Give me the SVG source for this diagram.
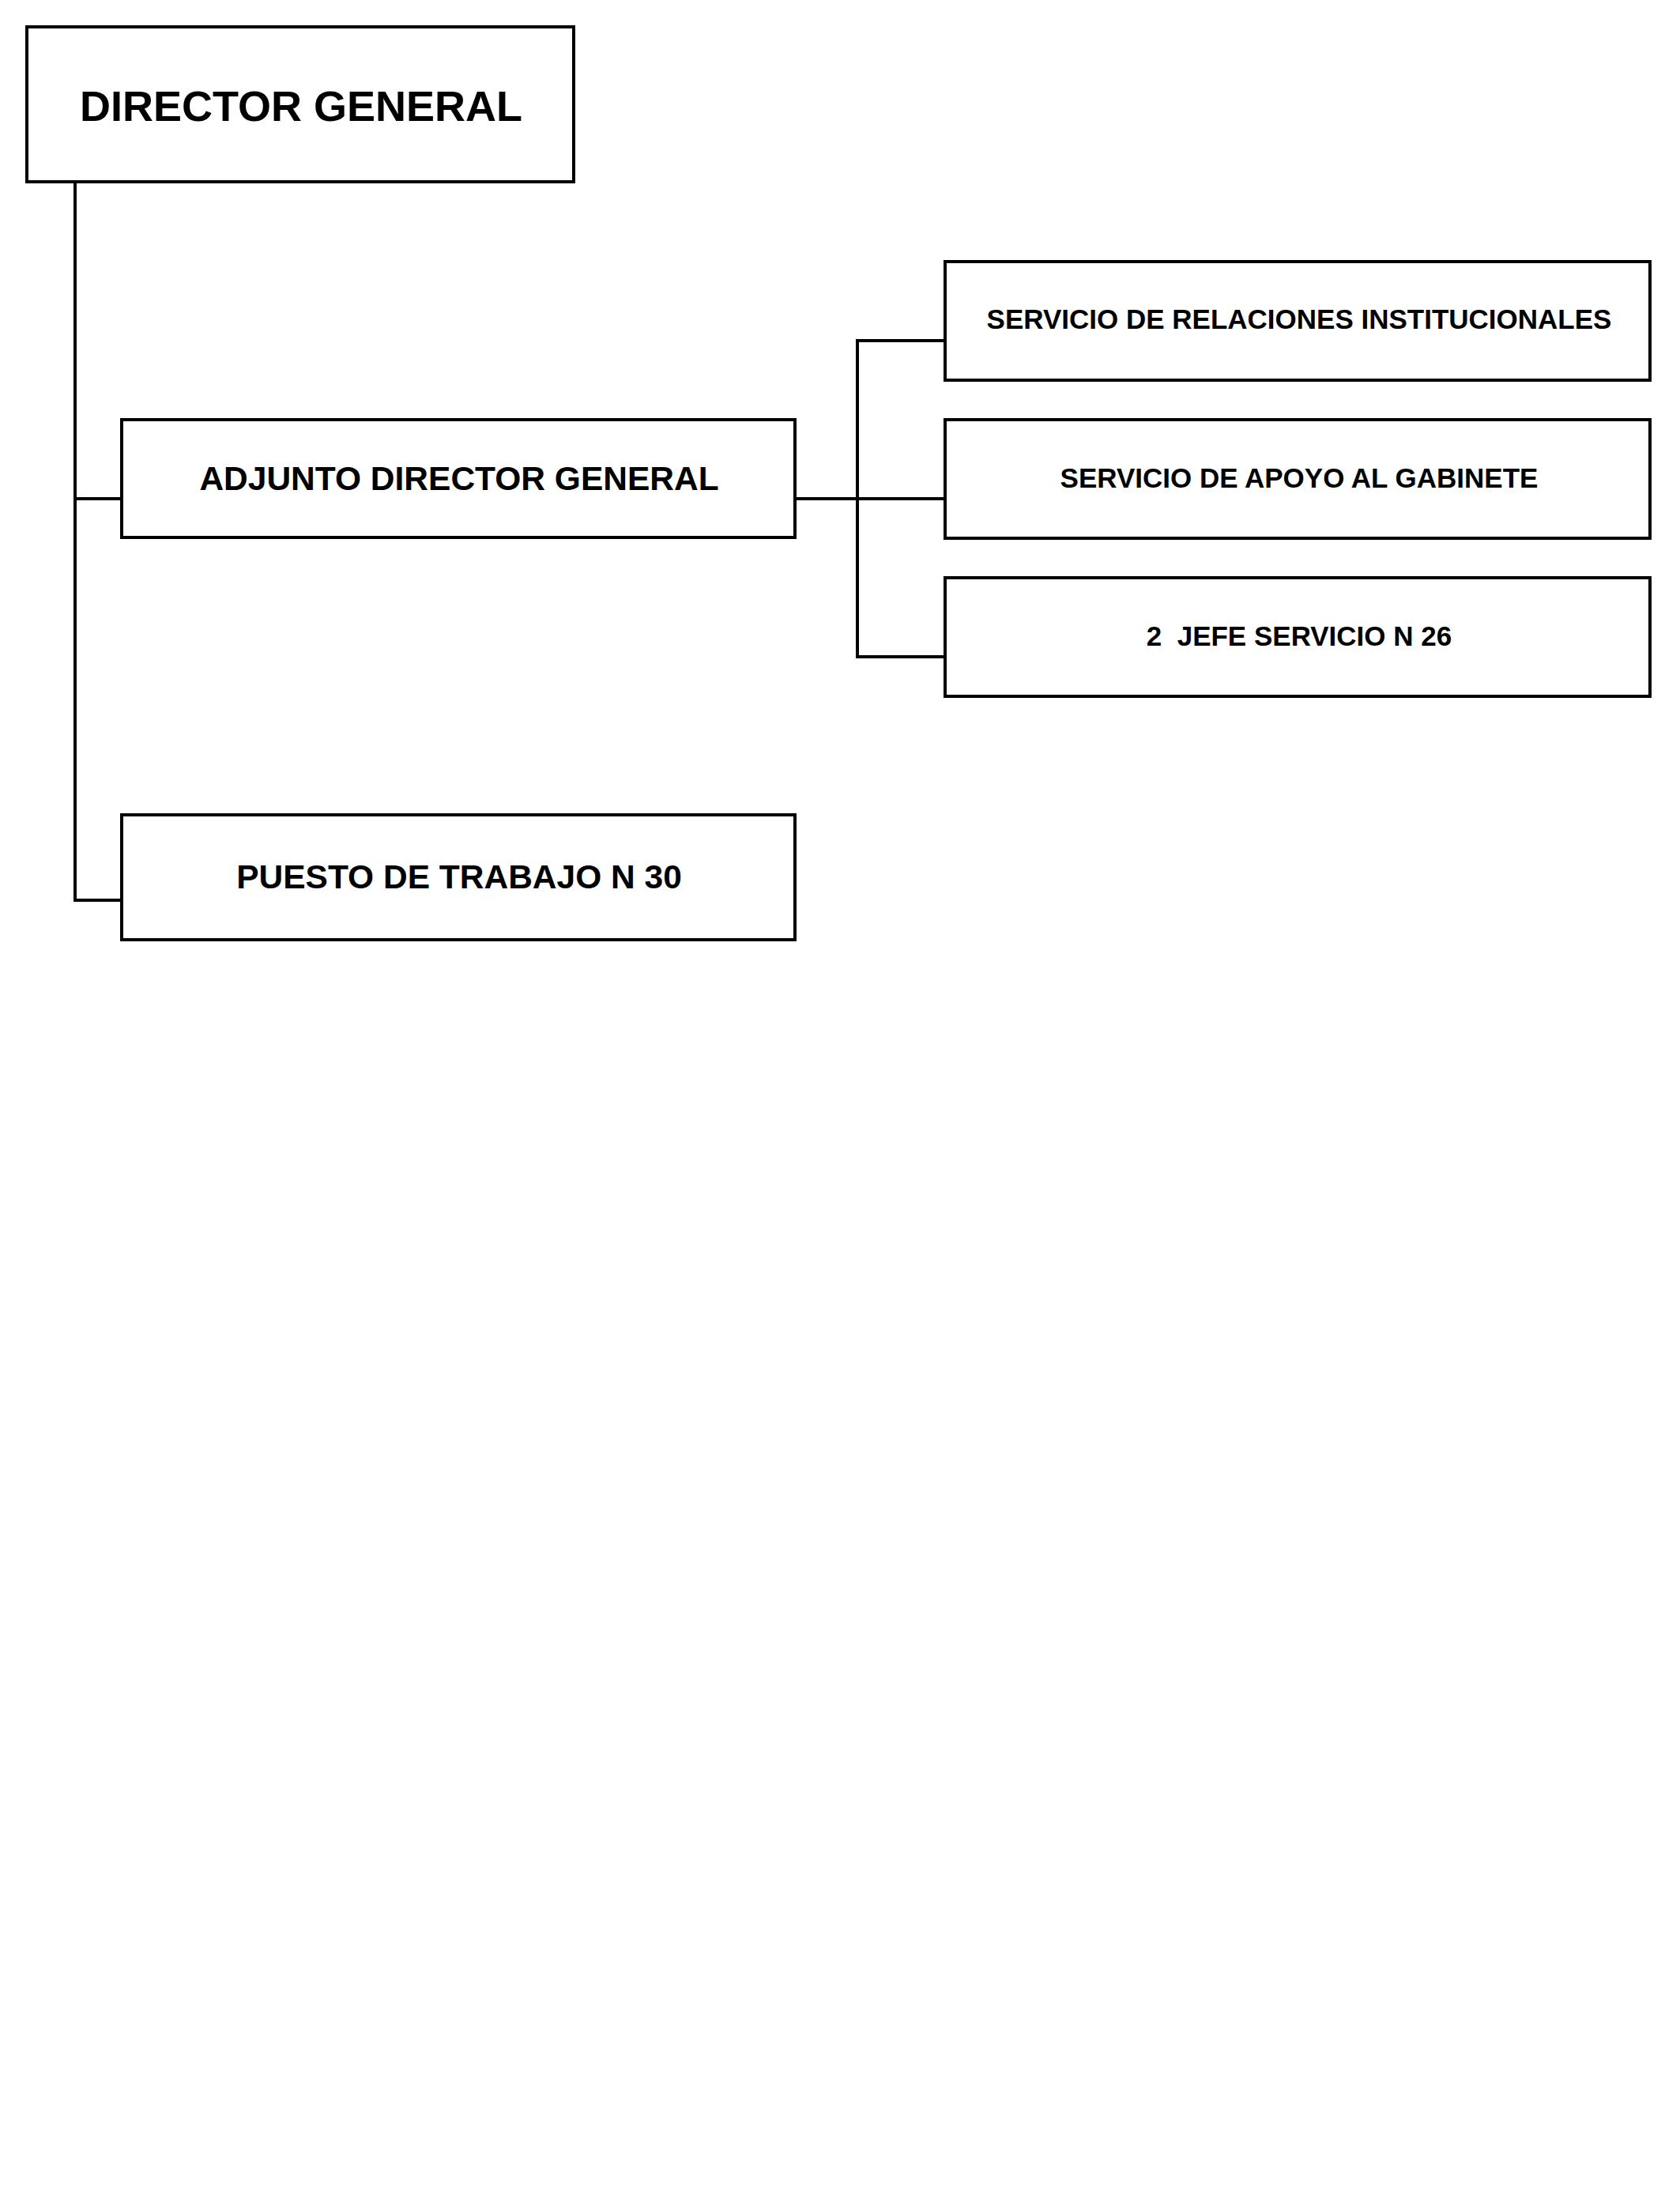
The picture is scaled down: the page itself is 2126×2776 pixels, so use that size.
<svg xmlns="http://www.w3.org/2000/svg" width="2126" height="2776" viewBox="0 0 2126 2776">
<style>
.box{fill:#ffffff;stroke:#000000;stroke-width:4}
.ln{fill:none;stroke:#000000;stroke-width:4}
.t{font-family:"Liberation Sans",Arial,sans-serif;font-weight:bold;fill:#000000;text-anchor:middle}
</style>
<rect width="2126" height="2776" fill="#ffffff"/>
<g id="connectors">
<path class="ln" d="M95,230 V1139 H154"/>
<path class="ln" d="M95,631 H154"/>
<path class="ln" d="M1006,631 H1196"/>
<path class="ln" d="M1196,431 H1085 V831 H1196"/>
</g>
<g id="director-general">
<rect class="box" x="34" y="34" width="692" height="196"/>
<text class="t" x="381" y="153" font-size="54">DIRECTOR GENERAL</text>
</g>
<g id="adjunto">
<rect class="box" x="154" y="531" width="852" height="149"/>
<text class="t" x="581" y="620" font-size="42.5">ADJUNTO DIRECTOR GENERAL</text>
</g>
<g id="puesto">
<rect class="box" x="154" y="1031" width="852" height="158"/>
<text class="t" x="581" y="1124" font-size="42.5">PUESTO DE TRABAJO N 30</text>
</g>
<g id="relaciones">
<rect class="box" x="1196" y="331" width="892" height="150"/>
<text class="t" x="1644" y="416" font-size="35">SERVICIO DE RELACIONES INSTITUCIONALES</text>
</g>
<g id="apoyo">
<rect class="box" x="1196" y="531" width="892" height="150"/>
<text class="t" x="1644" y="617" font-size="35">SERVICIO DE APOYO AL GABINETE</text>
</g>
<g id="jefe">
<rect class="box" x="1196" y="731" width="892" height="150"/>
<text class="t" x="1644" y="817" font-size="35" xml:space="preserve">2  JEFE SERVICIO N 26</text>
</g>
</svg>
